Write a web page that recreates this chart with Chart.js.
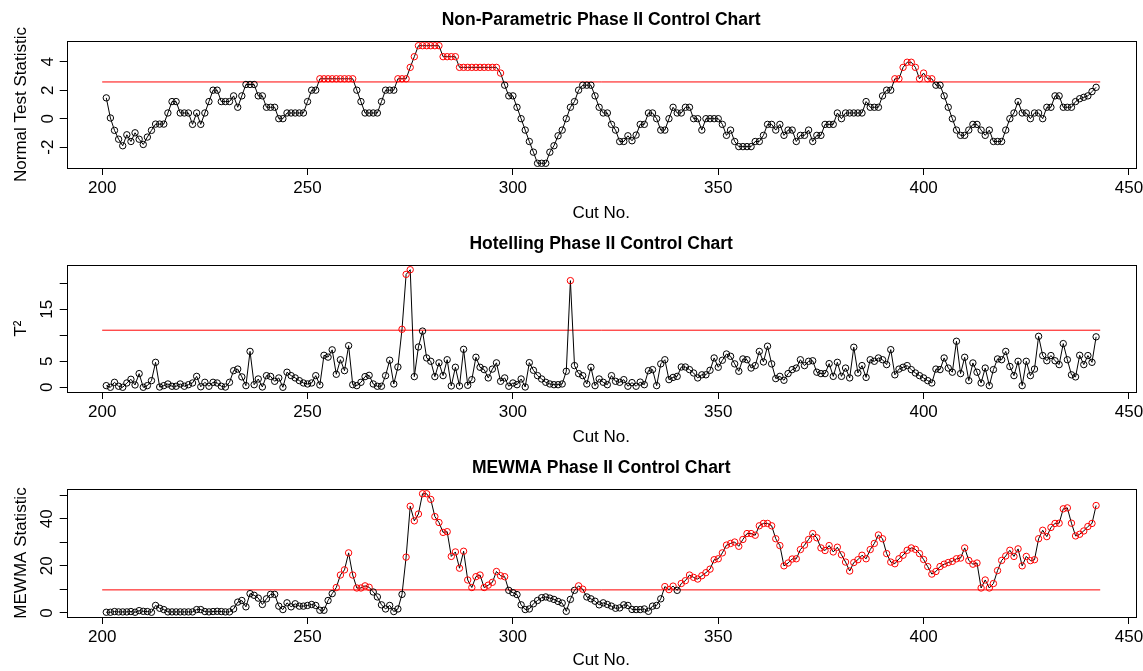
<!DOCTYPE html>
<html>
<head>
<meta charset="utf-8">
<script src="https://cdn.jsdelivr.net/npm/chart.js@4.4.0/dist/chart.umd.min.js"></script>
<style>
  body { margin: 0; background: #fff; overflow: hidden; }
  canvas { display: block; }
</style>
</head>
<body>
<canvas id="np" width="1143" height="224"></canvas>
<canvas id="t2" width="1143" height="224"></canvas>
<canvas id="mewma" width="1143" height="223"></canvas>
<script>
// cut numbers run 201..442, one value per cut
const cutStart = 201;

const npStat = [
  1.46, 0.05, -0.82, -1.44, -1.9, -1.13, -1.6, -0.99, -1.44, -1.81,
  -1.29, -0.82, -0.38, -0.38, -0.38, 0.4, 1.2, 1.2, 0.4, 0.4,
  0.4, -0.4, 0.4, -0.4, 0.4, 1.2, 2.0, 2.0, 1.2, 1.2,
  1.2, 1.6, 0.8, 1.6, 2.4, 2.4, 2.4, 1.6, 1.6, 0.8,
  0.8, 0.8, 0, 0, 0.4, 0.4, 0.4, 0.4, 0.4, 1.2,
  2.0, 2.0, 2.8, 2.8, 2.8, 2.8, 2.8, 2.8, 2.8, 2.8,
  2.8, 2.0, 1.2, 0.4, 0.4, 0.4, 0.4, 1.2, 2.0, 2.0,
  2.0, 2.8, 2.8, 2.8, 3.6, 4.35, 5.12, 5.12, 5.12, 5.12,
  5.12, 5.12, 4.35, 4.35, 4.35, 4.35, 3.6, 3.6, 3.6, 3.6,
  3.6, 3.6, 3.6, 3.6, 3.6, 3.6, 3.2, 2.35, 1.6, 1.6,
  0.8, 0, -0.8, -1.6, -2.35, -3.13, -3.13, -3.13, -2.35, -1.9,
  -1.2, -0.8, 0, 0.8, 1.2, 2.0, 2.35, 2.35, 2.35, 1.6,
  0.8, 0.4, 0.4, -0.4, -0.8, -1.6, -1.6, -1.2, -1.55, -1.15,
  -0.4, -0.4, 0.4, 0.4, 0, -0.8, -0.8, 0, 0.8, 0.4,
  0.4, 0.8, 0.8, 0, 0, -0.8, 0, 0, 0, 0,
  -0.4, -1.17, -0.8, -1.6, -1.96, -1.96, -1.96, -1.96, -1.6, -1.6,
  -1.17, -0.4, -0.4, -0.8, -0.4, -1.17, -0.8, -0.8, -1.6, -1.17,
  -1.17, -0.8, -1.6, -1.17, -1.17, -0.4, -0.4, -0.4, 0.4, 0,
  0.4, 0.4, 0.4, 0.4, 0.4, 1.2, 0.8, 0.8, 0.8, 1.6,
  2.0, 2.0, 2.8, 2.8, 3.6, 3.96, 3.96, 3.6, 2.8, 3.2,
  2.8, 2.8, 2.35, 2.35, 1.6, 0.8, 0, -0.8, -1.17, -1.17,
  -0.8, -0.4, -0.4, -0.8, -1.17, -0.8, -1.6, -1.6, -1.6, -0.8,
  0, 0.4, 1.2, 0.4, 0.4, 0, 0.4, 0.4, 0, 0.8,
  0.8, 1.6, 1.6, 0.8, 0.8, 0.8, 1.2, 1.4, 1.5, 1.6,
  1.9, 2.2
];

const t2Stat = [
  0.32, 0, 0.96, 0.2, 0, 0.83, 1.54, 0.45, 2.63, 0,
  0.32, 1.28, 4.8, 0.05, 0.32, 0.64, 0.2, 0.2, 0.64, 0.2,
  0.5, 0.83, 2.1, 0.1, 0.96, 0.2, 0.96, 0.83, 0.2, 0.05,
  0.96, 3.2, 3.5, 2.0, 0.32, 6.9, 0.5, 1.6, 0.06, 2.24,
  2.1, 1.15, 1.8, 0, 2.9, 2.24, 1.8, 1.28, 0.83, 0.64,
  0.83, 2.24, 0.45, 6.15, 5.8, 7.2, 2.5, 5.3, 3.2, 8.0,
  0.5, 0.32, 0.96, 2.05, 2.3, 0.64, 0.2, 0.2, 2.24, 5.2,
  0.64, 3.9, 11.15, 21.7, 22.6, 2.05, 7.75, 10.8, 5.64, 5.0,
  2.05, 4.7, 2.24, 5.3, 0.26, 3.85, 0.26, 7.3, 0.38, 1.47,
  5.77, 3.85, 3.4, 1.8, 3.5, 4.7, 1.15, 1.8, 0.2, 0.83,
  0.5, 1.6, 0.06, 4.74, 3.27, 2.24, 1.6, 0.96, 0.64, 0.5,
  0.5, 0.64, 3.08, 20.5, 4.17, 2.63, 2.24, 0.64, 3.85, 0.32,
  1.6, 0.96, 0.5, 2.24, 1.15, 0.96, 1.47, 0.2, 0.9, 0.2,
  1.0, 0.5, 3.2, 3.4, 0.32, 4.5, 5.3, 1.47, 1.9, 2.1,
  3.9, 3.9, 3.4, 2.75, 1.8, 2.4, 2.4, 3.27, 5.64, 3.85,
  5.2, 6.4, 5.96, 4.5, 3.08, 5.45, 5.3, 3.7, 4.17, 6.9,
  4.87, 7.9, 4.5, 1.67, 2.1, 1.35, 2.63, 3.4, 3.7, 5.3,
  4.17, 5.0, 5.1, 2.9, 2.63, 2.63, 4.55, 2.1, 4.8, 2.1,
  3.7, 1.8, 7.7, 2.75, 4.17, 1.9, 5.3, 5.0, 5.64, 5.3,
  4.36, 7.24, 2.4, 3.5, 3.85, 4.17, 3.4, 2.75, 2.24, 1.8,
  1.28, 0.83, 3.5, 3.4, 5.64, 3.7, 2.9, 8.85, 2.63, 5.77,
  1.28, 4.68, 2.9, 0.83, 3.7, 0.32, 3.4, 5.45, 5.3, 6.9,
  4.0, 2.24, 5.0, 0.32, 5.0, 2.24, 3.5, 9.8, 6.1, 5.1,
  6.1, 5.1, 4.36, 8.4, 5.3, 2.4, 2.0, 6.15, 4.36, 6.1,
  4.8, 9.7
];

const mewmaStat = [
  0.3, 0.3, 0.6, 0.45, 0.45, 0.45, 0.6, 0.3, 1.0, 0.7,
  0.6, 0.3, 3.2, 2.0, 1.44, 0.45, 0.45, 0.45, 0.45, 0.45,
  0.45, 0.45, 1.44, 1.44, 0.6, 0.45, 0.6, 0.7, 0.6, 0.45,
  0.45, 1.7, 4.6, 5.3, 2.6, 8.2, 7.5, 6.3, 3.6, 6.0,
  7.9, 7.9, 2.9, 1.44, 4.3, 2.6, 3.9, 2.9, 2.9, 3.2,
  3.6, 3.2, 1.15, 1.15, 5.3, 8.2, 10.8, 16.1, 18.3, 25.5,
  16.1, 10.6, 10.6, 11.5, 10.9, 8.9, 6.8, 3.45, 1.7, 3.2,
  0.6, 1.7, 7.9, 23.7, 45.3, 39.1, 42.0, 50.6, 50.6, 48.2,
  40.9, 38.4, 34.2, 34.5, 24.0, 25.9, 19.0, 26.2, 14.0, 10.8,
  15.4, 16.1, 10.8, 11.8, 13.0, 17.6, 15.8, 15.4, 9.6, 8.6,
  7.8, 3.45, 1.44, 1.7, 3.9, 5.3, 6.5, 6.8, 6.3, 5.75,
  4.9, 4.2, 0.7, 5.75, 9.6, 11.5, 10.1, 6.8, 6.0, 5.0,
  3.45, 4.3, 3.6, 2.9, 2.0, 2.15, 3.45, 3.2, 1.5, 1.44,
  1.44, 1.7, 0.7, 2.9, 3.2, 6.0, 11.2, 9.9, 11.4, 9.6,
  12.5, 13.7, 16.1, 15.1, 14.4, 15.8, 17.1, 18.6, 22.6, 23.0,
  25.5, 28.8, 29.5, 30.1, 28.3, 31.2, 33.7, 33.7, 33.0, 37.0,
  38.0, 38.0, 37.0, 31.5, 28.6, 20.0, 21.2, 22.9, 23.0, 26.9,
  28.8, 31.2, 33.7, 31.9, 27.6, 26.5, 28.6, 25.9, 27.9, 24.7,
  21.6, 17.8, 21.4, 22.6, 24.5, 23.0, 26.9, 29.5, 33.1, 31.5,
  25.2, 21.6, 20.9, 23.0, 24.5, 26.6, 27.6, 27.0, 25.2, 22.7,
  19.7, 16.5, 17.6, 19.7, 20.7, 21.4, 21.9, 23.0, 23.3, 27.6,
  22.3, 20.7, 21.2, 10.6, 14.0, 10.6, 12.5, 18.0, 22.3, 24.2,
  26.6, 24.0, 27.2, 20.0, 24.0, 22.2, 22.6, 31.5, 35.1, 32.4,
  36.3, 38.0, 38.1, 44.2, 44.6, 38.1, 32.7, 33.4, 34.8, 36.7,
  38.0, 45.6
];

// control limits and the cut range the limit line spans
const npLimit = 2.576;
const t2Limit = 10.97;
const mewmaLimit = 9.8;
const limitCuts = [200, 443];

// axis ticks; empty label = tick drawn without text (as R drops overlapping labels)
const xTicks = [200, 250, 300, 350, 400, 450];
const npTicks = [-2, 0, 2, 4];
const npTickLabels = ['-2', '0', '2', '4'];
const t2Ticks = [0, 5, 10, 15, 20];
const t2TickLabels = ['0', '5', '', '15', ''];
const mewmaTicks = [0, 10, 20, 30, 40, 50];
const mewmaTickLabels = ['0', '', '20', '', '40', ''];

const cutNo = npStat.map((v, i) => cutStart + i);

Chart.defaults.font.family = '"Liberation Sans", Arial, Helvetica, sans-serif';
Chart.defaults.color = '#000';

// R style range: data range widened by 4% each side
function rRange(vals) {
    let lo = Math.min(...vals);
    let hi = Math.max(...vals);
    let d = (hi - lo) * 0.04;
    return [lo - d, hi + d];
}

const boxPlugin = {
    id: 'box',
    afterDatasetsDraw(chart) {
        const {ctx, chartArea: a} = chart;
        ctx.save();
        ctx.strokeStyle = '#000';
        ctx.lineWidth = 1;
        ctx.strokeRect(Math.round(a.left) + 0.5, Math.round(a.top) + 0.5,
            Math.round(a.width), Math.round(a.height));
        ctx.restore();
    }
};

function drawPanel(id, p) {
    let [xMin, xMax] = rRange([cutNo[0], cutNo[cutNo.length - 1]]);
    let [yMin, yMax] = rRange(p.values);

    new Chart(document.getElementById(id), {
        type: 'line',
        data: {
            datasets: [{
                data: p.values.map((v, i) => ({x: cutNo[i], y: v})),
                borderColor: '#000',
                borderWidth: 1,
                tension: 0,
                pointRadius: 3.2,
                pointBorderWidth: 1,
                pointBackgroundColor: 'rgba(0,0,0,0)',
                pointBorderColor: p.values.map(v => v > p.limit ? '#ff0000' : '#000')
            }, {
                data: limitCuts.map(x => ({x: x, y: p.limit})),
                borderColor: '#ff0000',
                borderWidth: 1,
                pointRadius: 0
            }]
        },
        options: {
            responsive: false,
            animation: false,
            devicePixelRatio: 1,
            layout: {padding: {right: 7.3}},
            plugins: {
                legend: {display: false},
                tooltip: {enabled: false},
                title: {
                    display: true,
                    text: p.title,
                    fullSize: false,
                    font: {size: 17.5, weight: 'bold'},
                    padding: {top: 9.5, bottom: 10.5}
                }
            },
            scales: {
                x: {
                    type: 'linear',
                    min: xMin,
                    max: xMax,
                    border: {display: false},
                    grid: {drawOnChartArea: false, drawTicks: true, tickLength: 7, color: '#000'},
                    ticks: {padding: 3, maxRotation: 0, autoSkip: false, font: {size: 17}},
                    title: {display: true, text: 'Cut No.', font: {size: 17}, padding: {top: 0, bottom: p.xTitlePad}},
                    afterBuildTicks: s => { s.ticks = xTicks.map(v => ({value: v})); },
                    afterFit: s => { s.height = p.xAxisHeight; s.paddingLeft = 0; s.paddingRight = 0; }
                },
                y: {
                    min: yMin,
                    max: yMax,
                    border: {display: false},
                    grid: {drawOnChartArea: false, drawTicks: true, tickLength: 7, color: '#000'},
                    ticks: {
                        padding: p.yTickPad,
                        minRotation: 90,
                        maxRotation: 90,
                        crossAlign: 'center',
                        autoSkip: false,
                        font: {size: 17},
                        callback: v => p.tickLabels[p.ticks.indexOf(v)]
                    },
                    title: {display: true, text: p.yTitle, font: {size: 17}, padding: {top: 10.8, bottom: 0}},
                    afterBuildTicks: s => { s.ticks = p.ticks.map(v => ({value: v})); },
                    afterFit: s => { s.width = 66.7; s.paddingTop = 0; s.paddingBottom = 0; }
                }
            }
        },
        plugins: [boxPlugin]
    });
}

drawPanel('np', {
    title: 'Non-Parametric Phase II Control Chart',
    yTitle: 'Normal Test Statistic',
    values: npStat, limit: npLimit,
    ticks: npTicks, tickLabels: npTickLabels,
    yTickPad: 4, xAxisHeight: 56, xTitlePad: 0.8
});
drawPanel('t2', {
    title: 'Hotelling Phase II Control Chart',
    yTitle: 'T²',
    values: t2Stat, limit: t2Limit,
    ticks: t2Ticks, tickLabels: t2TickLabels,
    yTickPad: 2.5, xAxisHeight: 56, xTitlePad: 0.8
});
drawPanel('mewma', {
    title: 'MEWMA Phase II Control Chart',
    yTitle: 'MEWMA Statistic',
    values: mewmaStat, limit: mewmaLimit,
    ticks: mewmaTicks, tickLabels: mewmaTickLabels,
    yTickPad: 2.5, xAxisHeight: 54, xTitlePad: 0
});
</script>
</body>
</html>
